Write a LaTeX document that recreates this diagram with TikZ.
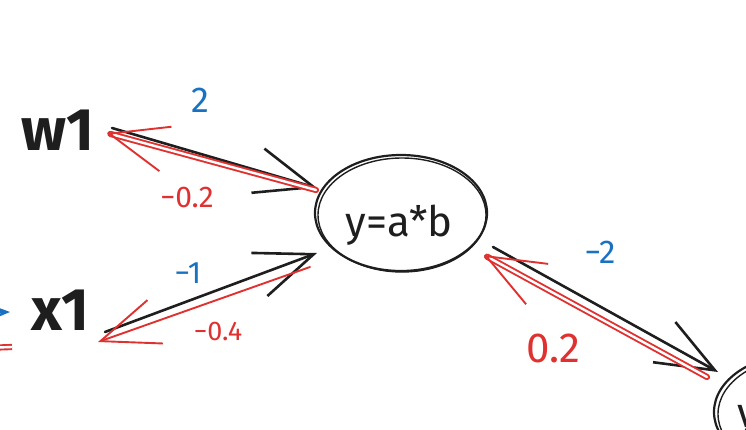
\documentclass[tikz,border=0pt]{standalone}
\usepackage{fontspec}
\setmainfont{Fira Sans}
\usetikzlibrary{arrows.meta,calc,shapes.geometric}

\definecolor{inkblack}{HTML}{1E1E1E}
\definecolor{gradred}{HTML}{E03131}
\definecolor{valblue}{HTML}{1971C2}

\tikzset{
  barb/.style={-{Straight Barb[length=58pt,width=46pt]}},
  forward/.style={barb, draw=inkblack, line width=2.6pt, line cap=round},
  backward/.style={barb, draw=gradred, line width=1.9pt, line cap=round},
  backdouble/.style={backward, double=white, double distance=2.4pt},
  valarrow/.style={barb, draw=valblue, line width=2.4pt, line cap=round},
  opnode/.style={ellipse, draw=inkblack, line width=2.2pt, minimum width=172pt, minimum height=116pt, inner sep=0pt},
  sketch/.style={draw=inkblack, line width=1.4pt},
  vartext/.style={font=\bfseries\fontsize{60}{60}\selectfont, text=inkblack, inner sep=0pt},
  optext/.style={font=\fontsize{42}{42}\selectfont, text=inkblack, inner sep=0pt},
  vallabel/.style={text=valblue, inner sep=0pt},
  gradlabel/.style={text=gradred, inner sep=0pt}
}

\begin{document}
\begin{tikzpicture}[x=1pt, y=-1pt]
    \useasboundingbox (0,0) rectangle (746,430);
    \clip (0,0) rectangle (746,430);

    % Inputs
    \node[vartext] (w1) at (58,130) {w1};
    \node[vartext] (x1) at (60,310) {x1};

    % Operation nodes
    \node[opnode] (mul) at (401,213) {};
    \draw[sketch] ($(mul)+(1,2)$) ellipse [x radius=84pt, y radius=57pt];
    \node[optext] (multext) at (399,225) {y=a*b};
    \node[opnode] (out) at (800,412) {};
    \draw[sketch] ($(out)+(2,2)$) ellipse [x radius=84pt, y radius=57pt];
    \node[optext, anchor=north west] (outtext) at (737,405) {y};

    % Cut-off arrows at the left edge
    \coordinate (bluetail) at (-80,314);
    \coordinate (redtail) at (-70,350);
    \draw[valarrow] (bluetail) -- ($(x1)+(-50,2)$);
    \draw[draw=gradred, line width=1.9pt, double=white, double distance=2.4pt] ($(x1)+(-48,37)$) -- (redtail);

    % Forward pass
    \draw[forward] ($(w1)+(54,-2)$) -- ($(mul)+(-84,-25)$);
    \draw[forward] ($(x1)+(45,22)$) -- ($(mul)+(-84,40)$);
    \draw[forward] ($(mul)+(92,34)$) -- ($(out)+(-82,-40)$);

    % Backward pass
    \draw[backdouble] ($(mul)+(-85,-23)$) -- ($(w1)+(49,3)$);
    \draw[backward] ($(mul)+(-91,54)$) -- ($(x1)+(38,32)$);
    \draw[backdouble] ($(out)+(-93,-35)$) -- ($(mul)+(83,42)$);

    % Values
    \node[vallabel, font=\fontsize{36}{36}\selectfont] (valw1) at (200,100) {2};
    \node[vallabel, font=\fontsize{31}{31}\selectfont] (valx1) at (188,273) {−1};
    \node[vallabel, font=\fontsize{33}{33}\selectfont] (valy) at (600,252) {−2};

    % Gradients
    \node[gradlabel, font=\fontsize{30}{30}\selectfont] (gradw1) at (187,197) {−0.2};
    \node[gradlabel, font=\fontsize{27}{27}\selectfont] (gradx1) at (218,331) {−0.4};
    \node[gradlabel, font=\fontsize{42}{42}\selectfont] (grady) at (553,348) {0.2};
\end{tikzpicture}
\end{document}
